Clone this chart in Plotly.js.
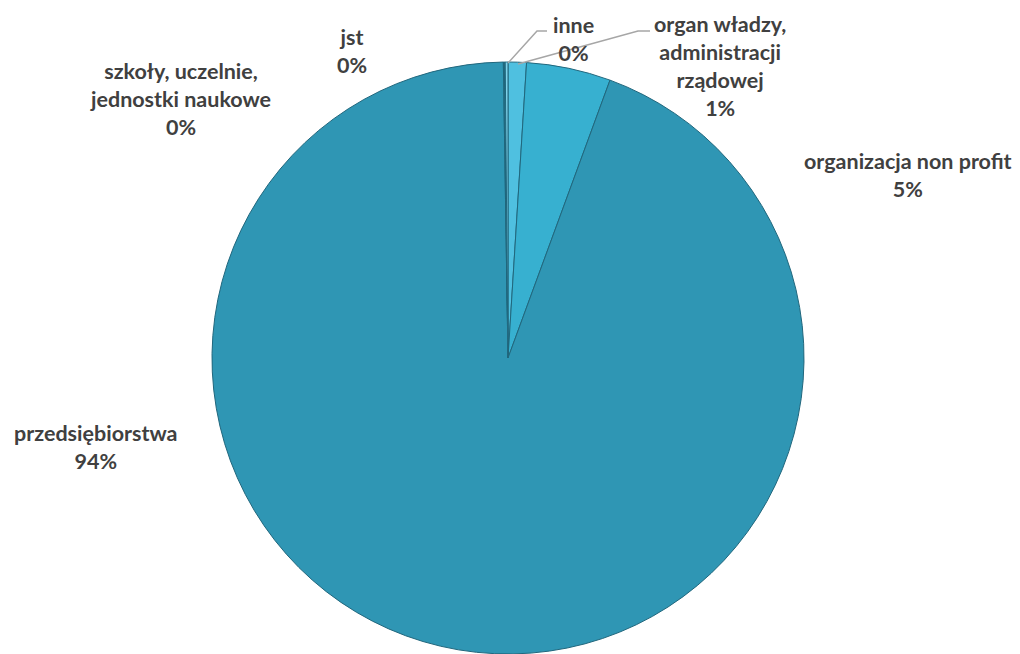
<!DOCTYPE html>
<html>
<head>
<meta charset="utf-8">
<script src="https://cdn.plot.ly/plotly-3.0.1.min.js"></script>
<style>html,body{margin:0;padding:0;background:#fff;}#chart{width:1020px;height:654px;}</style>
</head>
<body>
<div id="chart"></div>
<script>
// Data (clockwise from 12 o'clock)
const categories = ["organ władzy, administracji rządowej", "organizacja non profit", "przedsiębiorstwa", "szkoły, uczelnie, jednostki naukowe", "jst", "inne"];
const labelLines = ["organ władzy,<br>administracji<br>rządowej", "organizacja non profit", "przedsiębiorstwa", "szkoły, uczelnie,<br>jednostki naukowe", "jst", "inne"];
const values = [1.0, 4.6, 94.15, 0.05, 0.05, 0.15];
const sliceColors = ["#4fc0e0", "#37b0d0", "#2f96b4", "#2f96b4", "#2f96b4", "#7fd2ea"];

const W = 1020, H = 654;
const total = values.reduce((a, b) => a + b, 0);
const pctText = values.map(v => Math.round(v / total * 100) + '%');

// label anchor positions (pixels)
const labelPos = [
  [720, 66],
  [908, 175],
  [95, 447],
  [180, 99],
  [352, 51],
  [573, 39]
];

const px = x => x / W;
const py = y => 1 - y / H;

const annotations = categories.map((c, i) => ({
  xref: 'paper', yref: 'paper',
  x: px(labelPos[i][0]), y: py(labelPos[i][1]),
  xanchor: 'center', yanchor: 'middle',
  text: labelLines[i] + '<br>' + pctText[i],
  showarrow: false,
  align: 'center',
  font: {family: 'Lato, "Liberation Sans", sans-serif', size: 21.5, color: '#404040', weight: 'bold'}
}));

function pathPx(pts) {
  return pts.map((p, i) => (i ? 'L' : 'M') + px(p[0]) + ',' + py(p[1])).join(' ');
}
const shapes = [
  {type: 'path', xref: 'paper', yref: 'paper', path: pathPx([[508, 63], [537, 31], [547, 31]]), line: {color: '#a6a6a6', width: 1.5}},
  {type: 'path', xref: 'paper', yref: 'paper', path: pathPx([[518, 64], [638, 31], [650, 31]]), line: {color: '#a6a6a6', width: 1.5}}
];

const trace = {
  type: 'pie',
  labels: categories,
  values: values,
  sort: false,
  direction: 'clockwise',
  rotation: 0,
  textinfo: 'none',
  hoverinfo: 'none',
  marker: {colors: sliceColors, line: {color: '#21677d', width: 1}},
  domain: {x: [211 / W, 805 / W], y: [0, 592 / H]},
  showlegend: false
};

Plotly.newPlot('chart', [trace], {
  width: W, height: H,
  margin: {l: 0, r: 0, t: 0, b: 0},
  paper_bgcolor: '#ffffff',
  showlegend: false,
  annotations: annotations,
  shapes: shapes
}, {displayModeBar: false, staticPlot: true});
</script>
</body>
</html>
